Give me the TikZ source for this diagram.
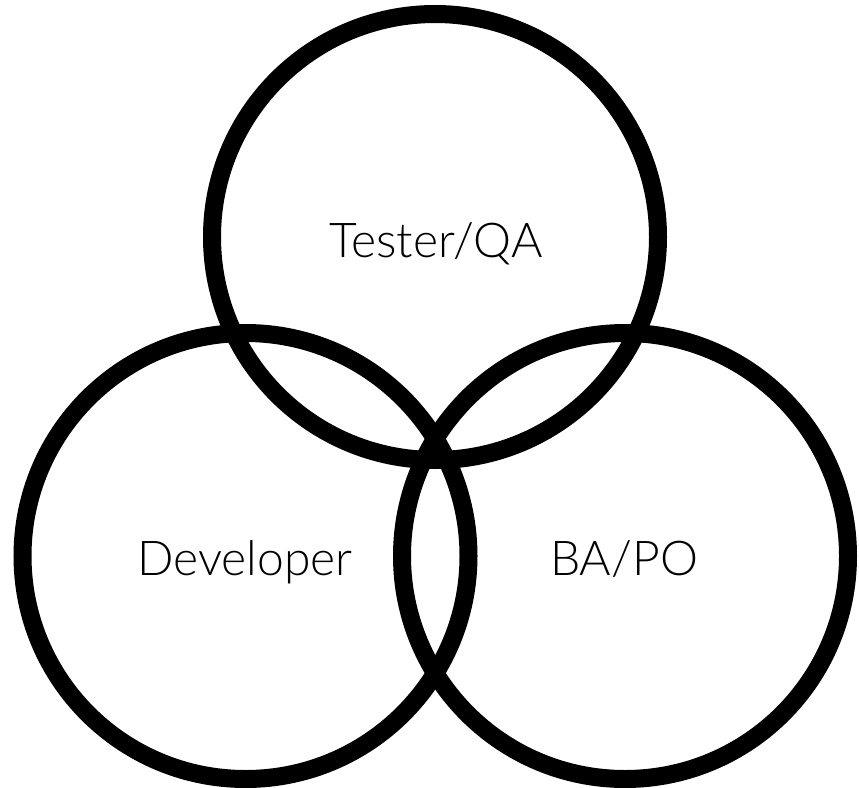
\documentclass[tikz,border=0pt]{standalone}
\usepackage{fontspec}
\setmainfont{Lato}[UprightFont={* Light}]
\begin{document}
\begin{tikzpicture}[x=1pt,y=-1pt,
  ring/.style={draw=black,line width=18pt},
  label/.style={anchor=base,font=\fontsize{48}{54}\selectfont,inner sep=0pt}]
\useasboundingbox (0,0) rectangle (859,787);
\coordinate (ct) at (435,237);
\coordinate (cl) at (245.5,556);
\coordinate (cr) at (625,556);
\draw[ring] (ct) circle[radius=223];
\draw[ring] (cl) circle[radius=223];
\draw[ring] (cr) circle[radius=223];
\node[label] (qa) at (436,257) {Tester/QA};
\node[label] (dev) at (245,575) {Developer};
\node[label] (ba) at (624,575) {BA/PO};
\end{tikzpicture}
\end{document}
